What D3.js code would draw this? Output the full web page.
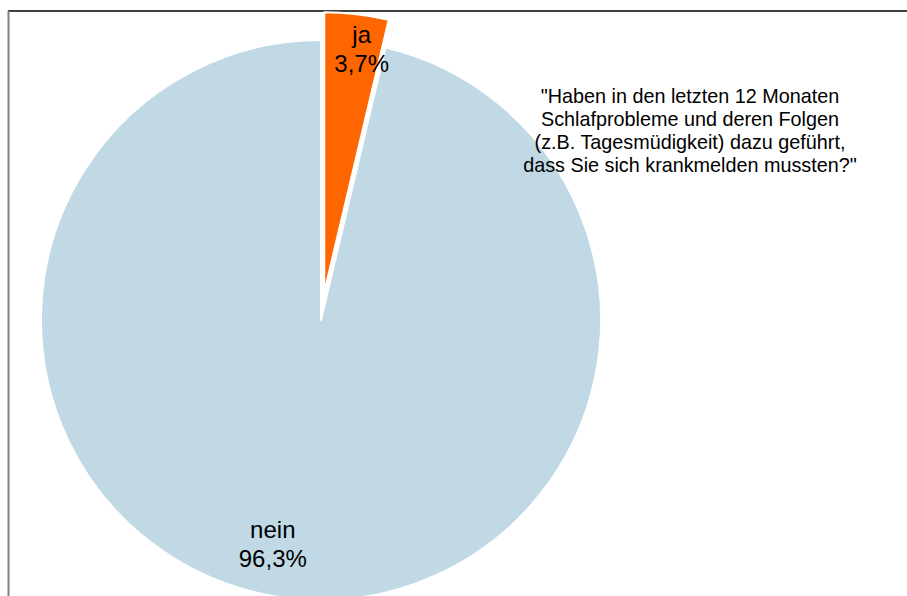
<!DOCTYPE html>
<html><head><meta charset="utf-8">
<script src="https://cdn.jsdelivr.net/npm/d3@7"></script>
<style>html,body{margin:0;padding:0;background:#fff;overflow:hidden}svg{display:block}</style>
</head><body>
<svg id="c" width="907" height="596"></svg>
<script>
const categories = ["ja", "nein"];
const values = [3.7, 96.3];
const valueLabels = ["3,7%", "96,3%"];
const colors = ["#FF6600", "#C0D9E5"];
const titleLines = ["\"Haben in den letzten 12 Monaten", "Schlafprobleme und deren Folgen", "(z.B. Tagesmüdigkeit) dazu geführt,", "dass Sie sich krankmelden mussten?\""];

const svg = d3.select("#c");
const cx = 321, cy = 320, R = 280;
const explode = [28, 0];
const labelR = [245, 226];
const labelDx = [9, -22];

// frame
svg.append("line").attr("x1", 8).attr("x2", 907).attr("y1", 11).attr("y2", 11).attr("stroke", "#000").attr("stroke-width", 1.5);
svg.append("line").attr("x1", 8.5).attr("x2", 8.5).attr("y1", 11).attr("y2", 596).attr("stroke", "#808080").attr("stroke-width", 2);

const data = categories.map((c, i) => ({cat: c, value: values[i], label: valueLabels[i], color: colors[i], i}));
const pie = d3.pie().value(d => d.value).sort(null);
const arcs = pie(data);
const arc = d3.arc().innerRadius(0).outerRadius(R);

const g = svg.append("g").attr("transform", `translate(${cx},${cy})`);
const shift = d => {
  const m = (d.startAngle + d.endAngle) / 2;
  const e = explode[d.index];
  return [Math.sin(m) * e, -Math.cos(m) * e];
};
g.selectAll("path.s").data(arcs).join("path").attr("class", "s")
  .attr("transform", d => `translate(${shift(d)})`)
  .attr("d", arc).attr("fill", d => d.data.color).attr("stroke", "#fff").attr("stroke-width", 2).attr("stroke-linejoin", "round");

arcs.forEach(d => {
  const m = (d.startAngle + d.endAngle) / 2;
  const r = labelR[d.index];
  const [sx, sy] = shift(d);
  const x = sx + Math.sin(m) * r + labelDx[d.index];
  const y = sy - Math.cos(m) * r;
  const t = g.append("text").attr("text-anchor", "middle")
    .attr("font-family", "Liberation Sans, Arial, sans-serif").attr("font-size", 24).attr("fill", "#000");
  t.append("tspan").attr("x", x).attr("y", y - 6).text(d.data.cat);
  t.append("tspan").attr("x", x).attr("y", y + 23).text(d.data.label);
});

const tt = svg.append("text").attr("text-anchor", "middle")
  .attr("font-family", "Liberation Sans, Arial, sans-serif").attr("font-size", 19.8).attr("fill", "#000");
titleLines.forEach((l, i) => tt.append("tspan").attr("x", 690).attr("y", 103 + i * 23).text(l));
</script>
</body></html>
